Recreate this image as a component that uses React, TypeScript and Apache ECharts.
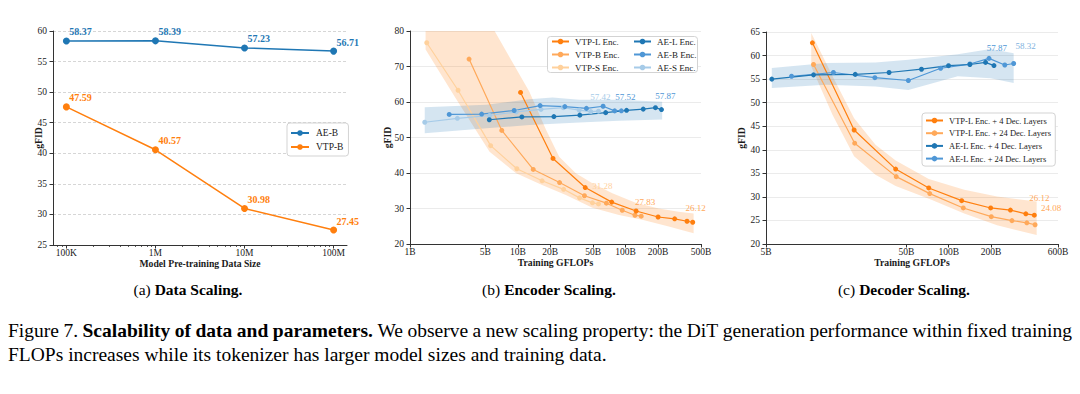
import React, { useEffect, useRef } from 'react';
import * as echarts from 'echarts';

const FONT = 'Liberation Serif';

// ---------- colours ----------
const C_ORANGE = '#ff7f0e';
const C_ORANGE_MID = '#ffa95a';
const C_ORANGE_LIGHT = '#ffd19c';
const C_BLUE = '#1f77b4';
const C_BLUE_MID = '#4f97d6';
const C_BLUE_LIGHT = '#a6cbe8';
const C_AXIS = '#333333';
const C_TEXT = '#1a1a1a';
const BAND_ORANGE = 'rgba(255,127,14,0.2)';
const BAND_BLUE = 'rgba(31,119,180,0.19)';

// ---------- (a) Data Scaling ----------
const aDataSize = [1e5, 1e6, 1e7, 1e8];
const aRange = [7.08e4, 1.413e8];
const aTicks = [1e5, 1e6, 1e7, 1e8];
const aTickLabels = ['100K', '1M', '10M', '100M'];
const aMinorTicks = [8e4, 9e4, 2e5, 3e5, 4e5, 5e5, 6e5, 7e5, 8e5, 9e5, 2e6, 3e6, 4e6, 5e6, 6e6, 7e6, 8e6, 9e6, 2e7, 3e7, 4e7, 5e7, 6e7, 7e7, 8e7, 9e7];
const aAeB = [58.37, 58.39, 57.23, 56.71];
const aVtpB = [47.59, 40.57, 30.98, 27.45];

// ---------- (b) Encoder Scaling (GFLOPs in billions) ----------
const bRange = [1, 500];
const bTicks = [1, 5, 10, 20, 50, 100, 200, 500];
const bTickLabels = ['1B', '5B', '10B', '20B', '50B', '100B', '200B', '500B'];
const bVtpLX = [10.6, 21.2, 42.2, 74.3, 125, 200, 285, 371, 419];
const bVtpLY = [62.7, 44.1, 35.9, 31.8, 29.3, 27.6, 27.1, 26.4, 26.12];
const bVtpBX = [3.53, 7.1, 13.9, 24.4, 41.5, 66.3, 93, 122, 139.5];
const bVtpBY = [72.1, 52.0, 41.0, 37.3, 33.6, 31.5, 29.5, 28.1, 27.83];
const bVtpSX = [1.43, 2.79, 5.6, 9.8, 16.8, 26.6, 37.4, 49.2, 56];
const bVtpSY = [76.7, 63.3, 47.7, 41.2, 37.8, 35.4, 33.0, 31.6, 31.28];
const bAeLX = [5.44, 10.9, 21.6, 37.6, 65.3, 102, 145.6, 189, 215];
const bAeLY = [55.0, 55.8, 55.9, 56.3, 57.0, 57.65, 58.0, 58.4, 57.87];
const bAeBX = [2.31, 4.62, 9.25, 16.1, 27.3, 43.3, 61.8, 79.1, 91.2];
const bAeBY = [56.5, 56.6, 57.6, 59.0, 58.7, 58.2, 58.8, 57.5, 57.52];
const bAeSX = [1.37, 2.75, 5.47, 9.66, 16.4, 26.4, 37.1, 47.5, 56];
const bAeSY = [54.3, 55.4, 56.2, 57.2, 57.9, 58.4, 57.7, 57.3, 57.42];
// confidence bands
const bOrangeHiX = [1.395, 6.09, 12.8, 18.3, 24.2, 34.5, 49.2, 75.3, 123.7, 203, 310, 427];
const bOrangeHiY = [80, 80, 62.9, 52.1, 44.6, 39.9, 37.1, 34.3, 31.6, 30.0, 29.1, 28.6];
const bOrangeLoX = [1.395, 2.6, 5.47, 9.66, 16.8, 27.9, 49.2, 86.8, 142.5, 251, 427];
const bOrangeLoY = [74.8, 61.5, 46.0, 39.9, 36.6, 33.8, 30.2, 28.2, 26.8, 24.9, 23.0];
const bBlueHiX = [1.37, 5.1, 12.8, 21, 37.1, 86.8, 218];
const bBlueHiY = [58.5, 59.2, 60.75, 61.3, 60.6, 60.6, 60.1];
const bBlueLoX = [1.37, 5.1, 12.8, 37.1, 86.8, 218];
const bBlueLoY = [51.2, 52.6, 53.5, 54.2, 54.7, 55.1];

// ---------- (c) Decoder Scaling ----------
const cRange = [5, 600];
const cTicks = [5, 50, 100, 200, 600];
const cTickLabels = ['5B', '50B', '100B', '200B', '600B'];
const cVtp4X = [10.7, 21.2, 41.9, 72.1, 123.7, 199, 275, 354, 407];
const cVtp4Y = [62.7, 44.2, 35.9, 31.9, 29.2, 27.65, 27.2, 26.4, 26.12];
const cVtp24X = [10.9, 21.4, 42.3, 73.3, 127, 201, 282, 360, 412];
const cVtp24Y = [58.1, 41.4, 34.3, 30.7, 27.65, 25.8, 24.96, 24.5, 24.08];
const cAe4X = [5.5, 10.9, 21.6, 37.6, 64, 99.7, 141.5, 183, 210];
const cAe4Y = [55.0, 55.9, 56.0, 56.4, 57.1, 57.85, 58.1, 58.55, 57.87];
const cAe24X = [7.6, 15.1, 29.8, 51.6, 87.6, 141.5, 193.6, 250.7, 290];
const cAe24Y = [55.6, 56.4, 55.3, 54.7, 57.3, 58.2, 59.4, 58.0, 58.32];
const cOrangeHiX = [10.5, 14.9, 21.2, 30.1, 41.9, 72.1, 129, 221, 423];
const cOrangeHiY = [64.8, 55.6, 46.7, 41.05, 37.7, 33.8, 31.5, 30.1, 29.0];
const cOrangeLoX = [10.5, 14.9, 21.2, 30.1, 41.9, 75.3, 129, 221, 423];
const cOrangeLoY = [57.7, 47.4, 38.6, 34.7, 32.3, 29.4, 26.5, 24.0, 21.9];
const cBlueHiX = [5.5, 13.4, 30.1, 51.6, 116, 199, 290];
const cBlueHiY = [57.35, 58.4, 58.55, 59.1, 60.3, 61.4, 60.5];
const cBlueLoX = [5.5, 13.4, 30.1, 51.6, 116, 199, 290];
const cBlueLoY = [53.1, 53.8, 53.45, 52.7, 55.6, 55.2, 54.2];

// ---------- captions ----------
const subCaptions = [
  { tag: '(a) ', title: 'Data Scaling.', cx: 188 },
  { tag: '(b) ', title: 'Encoder Scaling.', cx: 549 },
  { tag: '(c) ', title: 'Decoder Scaling.', cx: 904 },
];
const capLine1: { t: string; b: boolean }[] = [
  { t: 'Figure 7.', b: false },
  { t: 'Scalability of data and parameters.', b: true },
  { t: 'We observe a new scaling property: the DiT generation performance within fixed training', b: false },
];
const capLine2 = 'FLOPs increases while its tokenizer has larger model sizes and training data.';

// ---------- helpers ----------
const L = (v: number) => Math.log10(v);

type Lbl = { dx: number; dy: number; align: string; bold: boolean; size: number; color: string };

function lineSeries(name: string, xs: number[], ys: number[], color: string, xi: number, yi: number,
  size: number, width: number, lbl: Lbl | null, all: boolean) {
  const data = xs.map((x, i) => {
    const value = [L(x), ys[i]];
    if (!lbl || !(all || i === xs.length - 1)) return { value };
    return {
      value,
      label: {
        show: true,
        position: [size / 2 + lbl.dx, size / 2 + lbl.dy],
        align: lbl.align,
        verticalAlign: 'middle',
        formatter: () => ys[i].toFixed(2),
        color: lbl.color,
        fontFamily: FONT,
        fontSize: lbl.size,
        lineHeight: lbl.size,
        fontWeight: lbl.bold ? 'bold' : 'normal',
      },
    };
  });
  return {
    type: 'line', name, xAxisIndex: xi, yAxisIndex: yi, data,
    symbol: 'circle', symbolSize: size, showSymbol: true,
    lineStyle: { color, width }, itemStyle: { color, borderWidth: 0 },
    label: { show: false }, emphasis: { disabled: true }, z: 3,
  };
}

function bandSeries(hx: number[], hy: number[], lx: number[], ly: number[], fill: string, xi: number, yi: number) {
  return {
    type: 'custom', xAxisIndex: xi, yAxisIndex: yi, silent: true, z: 1, clip: true,
    data: [[L(hx[0]), hy[0]]],
    renderItem: (_p: any, api: any) => {
      const up = hx.map((x, i) => api.coord([L(x), hy[i]]));
      const lo = lx.map((x, i) => api.coord([L(x), ly[i]])).reverse();
      return { type: 'polygon', shape: { points: up.concat(lo) }, style: { fill } };
    },
  };
}

const tickFont = { fontFamily: FONT, fontSize: 9.5, color: C_TEXT };
const nameFont = { fontFamily: FONT, fontSize: 9.7, fontWeight: 'bold', color: C_TEXT };

function xAxisDef(gi: number, range: number[], ticks: number[], labels: string[], name: string, gap: number) {
  const lv = ticks.map(L);
  return {
    type: 'value', gridIndex: gi, position: 'bottom', min: L(range[0]), max: L(range[1]),
    name, nameLocation: 'middle', nameGap: gap, nameTextStyle: nameFont, nameMoveOverlap: false,
    axisLine: { show: true, onZero: false, lineStyle: { color: C_AXIS, width: 1 } },
    axisTick: { show: true, customValues: lv, length: 3.5, lineStyle: { color: C_AXIS, width: 1 } },
    axisLabel: {
      show: true, customValues: lv, margin: 3, ...tickFont, hideOverlap: false,
      formatter: (v: number) => {
        const i = lv.findIndex((t) => Math.abs(t - v) < 1e-6);
        return i >= 0 ? labels[i] : '';
      },
    },
    splitLine: { show: false }, minorTick: { show: false }, minorSplitLine: { show: false },
  };
}

function yAxisDef(gi: number, min: number, max: number, interval: number, gap: number, dashed: boolean) {
  return {
    type: 'value', gridIndex: gi, position: 'left', min, max, interval,
    name: 'gFID', nameLocation: 'middle', nameGap: gap, nameRotate: 90, nameTextStyle: nameFont, nameMoveOverlap: false,
    axisLine: { show: true, lineStyle: { color: C_AXIS, width: 1 } },
    axisTick: { show: true, length: 3.5, lineStyle: { color: C_AXIS, width: 1 } },
    axisLabel: { show: true, margin: 6, ...tickFont },
    splitLine: { show: true, lineStyle: { color: dashed ? '#d6d6d6' : '#ebebeb', width: 1, type: dashed ? [3, 2] : 'solid' } },
  };
}

function legendDef(names: string[], left: number, top: number, o: any) {
  return {
    show: true, data: names, orient: 'vertical', left, top, selectedMode: false,
    itemWidth: o.iw, itemHeight: o.ih, itemGap: o.gap,
    textStyle: { fontFamily: FONT, fontSize: o.fs, lineHeight: o.lh, color: C_TEXT, padding: [0, 0, 0, o.tp || 0] },
    padding: o.pad, borderColor: o.border ? '#d3d3d3' : 'transparent', borderWidth: o.border ? 1 : 0,
    borderRadius: 3, backgroundColor: o.border ? '#ffffff' : 'transparent', z: 5,
  };
}

function measure(text: string, bold: boolean, size: number) {
  const ctx = document.createElement('canvas').getContext('2d')!;
  ctx.font = `${bold ? 'bold ' : ''}${size}px "${FONT}"`;
  return ctx.measureText(text).width;
}

function captionGraphics() {
  const els: any[] = [];
  subCaptions.forEach((c) => {
    els.push({
      type: 'text', x: c.cx, y: 289,
      style: {
        text: `{n|${c.tag}}{b|${c.title}}`,
        rich: {
          n: { fontFamily: FONT, fontSize: 15.5, fill: '#000' },
          b: { fontFamily: FONT, fontSize: 15.5, fontWeight: 'bold', fill: '#000' },
        },
        align: 'center', verticalAlign: 'middle', textAlign: 'center', textVerticalAlign: 'middle',
      },
    });
  });
  const size = 19.5;
  const words: { t: string; b: boolean }[] = [];
  capLine1.forEach((seg) => seg.t.split(' ').forEach((w) => words.push({ t: w, b: seg.b })));
  const widths = words.map((w) => measure(w.t, w.b, size));
  const total = widths.reduce((a, b) => a + b, 0);
  const x0 = 8, x1 = 1072;
  const gap = Math.max(3, (x1 - x0 - total) / (words.length - 1));
  let x = x0;
  words.forEach((w, i) => {
    els.push({
      type: 'text', x, y: 330,
      style: {
        text: w.t, fontFamily: FONT, fontSize: size, fontWeight: w.b ? 'bold' : 'normal', fill: '#000',
        align: 'left', verticalAlign: 'middle', textAlign: 'left', textVerticalAlign: 'middle',
      },
    });
    x += widths[i] + gap;
  });
  els.push({
    type: 'text', x: 8, y: 354,
    style: {
      text: capLine2, fontFamily: FONT, fontSize: size, fill: '#000',
      align: 'left', verticalAlign: 'middle', textAlign: 'left', textVerticalAlign: 'middle',
    },
  });
  // legend frame for panel (b)
  els.push({
    type: 'rect', z: 4, shape: { x: 547.5, y: 36.5, width: 150, height: 36, r: 3 },
    style: { fill: '#ffffff', stroke: '#d3d3d3', lineWidth: 1 },
  });
  return els;
}

function buildOption() {
  const lblA = (color: string): Lbl => ({ dx: 3, dy: -9, align: 'left', bold: true, size: 10, color });
  const lblC = (color: string, dx: number, dy: number): Lbl => ({ dx, dy, align: 'center', bold: false, size: 9, color });

  return {
    animation: false,
    backgroundColor: '#ffffff',
    grid: [
      { left: 53, top: 31, width: 294, height: 214, outerBoundsMode: 'none', containLabel: false },
      { left: 410, top: 31, width: 291, height: 213, outerBoundsMode: 'none', containLabel: false },
      { left: 766, top: 32, width: 292, height: 212, outerBoundsMode: 'none', containLabel: false },
    ],
    xAxis: [
      xAxisDef(0, aRange, aTicks, aTickLabels, 'Model Pre-training Data Size', 13),
      {
        type: 'value', gridIndex: 0, position: 'bottom', min: L(aRange[0]), max: L(aRange[1]),
        axisLine: { show: false, onZero: false }, axisLabel: { show: false }, splitLine: { show: false },
        axisTick: { show: true, customValues: aMinorTicks.map(L), length: 2, lineStyle: { color: C_AXIS, width: 0.8 } },
      },
      xAxisDef(1, bRange, bTicks, bTickLabels, 'Training GFLOPs', 13),
      xAxisDef(2, cRange, cTicks, cTickLabels, 'Training GFLOPs', 13),
    ],
    yAxis: [
      yAxisDef(0, 25, 60, 5, 10, true),
      yAxisDef(1, 20, 80, 10, 18, false),
      yAxisDef(2, 20, 65, 5, 20, false),
    ],
    legend: [
      legendDef(['AE-B', 'VTP-B'], 287, 123, { iw: 18, ih: 7, lh: 9, gap: 4, fs: 9.5, pad: [5, 5, 4, 3], border: true, tp: 2 }),
      legendDef(['VTP-L Enc.', 'VTP-B Enc.', 'VTP-S Enc.'], 549, 35, { iw: 17, ih: 7, lh: 9, gap: 4, fs: 9, pad: [2, 2, 2, 2], border: false, tp: 1 }),
      legendDef(['AE-L Enc.', 'AE-B Enc.', 'AE-S Enc.'], 631, 35, { iw: 17, ih: 7, lh: 9, gap: 4, fs: 9, pad: [2, 2, 2, 2], border: false, tp: 1 }),
      legendDef(['VTP-L Enc. + 4 Dec. Layers', 'VTP-L Enc. + 24 Dec. Layers', 'AE-L Enc. + 4 Dec. Layers', 'AE-L Enc. + 24 Dec. Layers'], 922, 113,
        { iw: 17, ih: 7, lh: 8, gap: 3.7, fs: 8.5, pad: [3, 4, 3, 3], border: true, tp: 1 }),
    ],
    graphic: { elements: captionGraphics() },
    series: [
      // (a)
      lineSeries('AE-B', aDataSize, aAeB, C_BLUE, 0, 0, 7, 1.5, lblA(C_BLUE), true),
      lineSeries('VTP-B', aDataSize, aVtpB, C_ORANGE, 0, 0, 7, 1.5, lblA(C_ORANGE), true),
      // (b)
      bandSeries(bOrangeHiX, bOrangeHiY, bOrangeLoX, bOrangeLoY, BAND_ORANGE, 2, 1),
      bandSeries(bBlueHiX, bBlueHiY, bBlueLoX, bBlueLoY, BAND_BLUE, 2, 1),
      lineSeries('VTP-S Enc.', bVtpSX, bVtpSY, C_ORANGE_LIGHT, 2, 1, 5, 1.2, lblC(C_ORANGE_LIGHT, 4, -18), false),
      lineSeries('VTP-B Enc.', bVtpBX, bVtpBY, C_ORANGE_MID, 2, 1, 5, 1.2, lblC(C_ORANGE_MID, 4, -14), false),
      lineSeries('VTP-L Enc.', bVtpLX, bVtpLY, C_ORANGE, 2, 1, 5, 1.2, lblC(C_ORANGE_MID, 3, -14), false),
      lineSeries('AE-S Enc.', bAeSX, bAeSY, C_BLUE_LIGHT, 2, 1, 5, 1.2, lblC(C_BLUE_LIGHT, 2, -14), false),
      lineSeries('AE-B Enc.', bAeBX, bAeBY, C_BLUE_MID, 2, 1, 5, 1.2, lblC(C_BLUE_MID, 4, -14), false),
      lineSeries('AE-L Enc.', bAeLX, bAeLY, C_BLUE, 2, 1, 5, 1.2, lblC(C_BLUE_MID, 4, -14), false),
      // (c)
      bandSeries(cOrangeHiX, cOrangeHiY, cOrangeLoX, cOrangeLoY, BAND_ORANGE, 3, 2),
      bandSeries(cBlueHiX, cBlueHiY, cBlueLoX, cBlueLoY, BAND_BLUE, 3, 2),
      lineSeries('VTP-L Enc. + 24 Dec. Layers', cVtp24X, cVtp24Y, C_ORANGE_MID, 3, 2, 5, 1.2, lblC(C_ORANGE_MID, 16, -17), false),
      lineSeries('VTP-L Enc. + 4 Dec. Layers', cVtp4X, cVtp4Y, C_ORANGE, 3, 2, 5, 1.2, lblC(C_ORANGE_MID, 5, -17), false),
      lineSeries('AE-L Enc. + 24 Dec. Layers', cAe24X, cAe24Y, C_BLUE_MID, 3, 2, 5, 1.2, lblC('#7fb3e0', 12, -17), false),
      lineSeries('AE-L Enc. + 4 Dec. Layers', cAe4X, cAe4Y, C_BLUE, 3, 2, 5, 1.2, lblC(C_BLUE_MID, 3, -18), false),
    ],
  };
}

export default function App() {
  const ref = useRef<HTMLDivElement>(null);
  useEffect(() => {
    document.body.style.margin = '0';
    const chart = echarts.init(ref.current!, null, { renderer: 'svg', width: 1080, height: 394 });
    chart.setOption(buildOption() as any);
    return () => chart.dispose();
  }, []);
  return <div ref={ref} style={{ width: 1080, height: 394, background: '#fff' }} />;
}
